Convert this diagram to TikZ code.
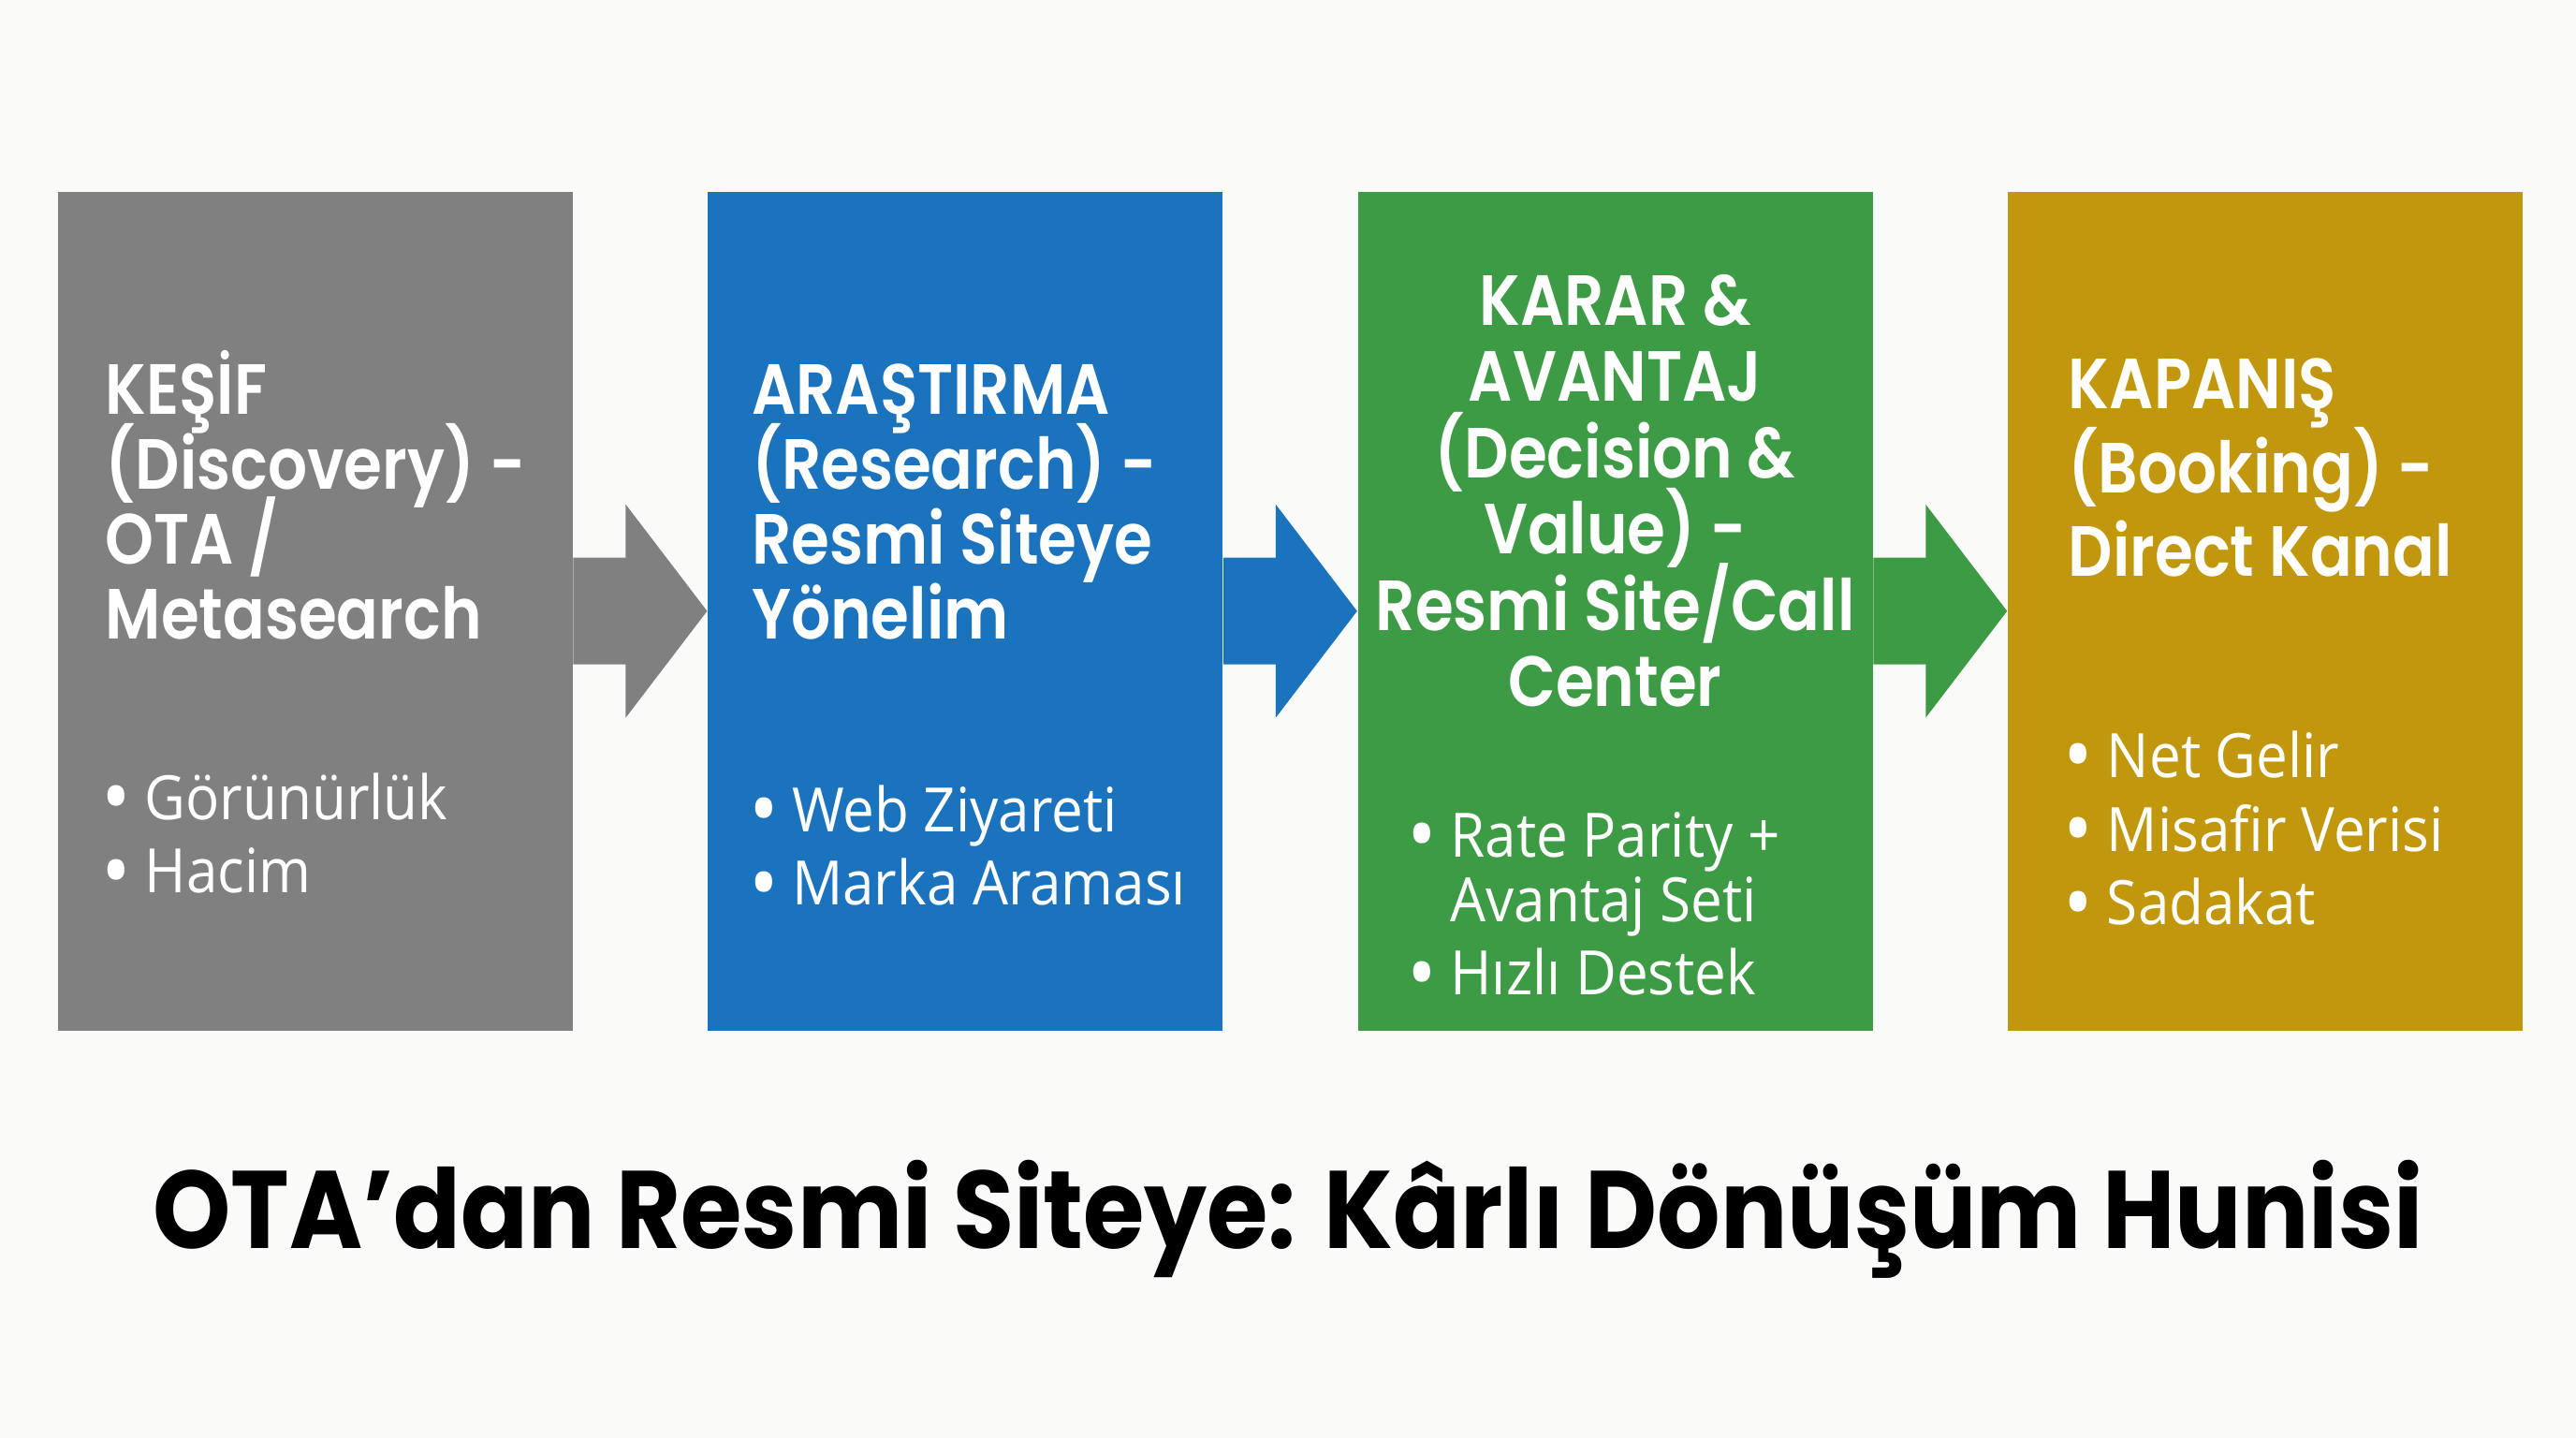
\documentclass[tikz,border=0pt]{standalone}
\usepackage{fontspec}
\setmainfont{Open Sans}[FakeStretch=0.92]
\newfontfamily\headfont{Poppins}[BoldFont={* SemiBold}, FakeStretch=0.87]
\newfontfamily\titlefont{Poppins}[FakeStretch=0.9]
\usetikzlibrary{positioning, calc}

\definecolor{bgwhite}{HTML}{FAFAF9}
\definecolor{stepgray}{HTML}{808080}
\definecolor{stepblue}{HTML}{1B72BD}
\definecolor{stepgreen}{HTML}{3E9B45}
\definecolor{stepgold}{HTML}{C1970D}

\newcommand{\bul}{\raisebox{-0.13em}{\scalebox{1.4}{\textbullet}}\hspace{0.22em}}
\newcommand{\bulskip}{\hphantom{\scalebox{1.4}{\textbullet}\hspace{0.22em}}}
\newcommand{\fixedlines}{\lineskiplimit=-20pt\lineskip=0pt}

\begin{document}
\begin{tikzpicture}[
    % Styles
    stage/.style={ % funnel stage box
        rectangle,
        minimum width=5.5cm,
        minimum height=8.96cm,
        inner sep=0pt
    },
    head/.style={ % stage heading, placed by its last baseline
        inner sep=0pt,
        text=white,
        anchor=base west,
        align=left,
        font=\headfont\bfseries\fontsize{21.6}{22.8}\selectfont\fixedlines
    },
    bullets/.style={ % stage metrics, placed by its last baseline
        inner sep=0pt,
        text=white,
        anchor=base west,
        align=left,
        font=\fontsize{18.6}{19.6}\selectfont\fixedlines
    },
    title/.style={
        inner sep=0pt,
        text=black,
        anchor=base,
        font=\titlefont\bfseries\fontsize{33.5}{40}\selectfont
    }
]
    \useasboundingbox[fill=bgwhite] (0,0) rectangle (27.52,15.36);

    % Stage boxes
    \node[stage, fill=stepgray, anchor=north west] (kesif) at (0.61,13.32) {};
    \node[stage, fill=stepblue, right=1.43cm of kesif] (arastirma) {};
    \node[stage, fill=stepgreen, right=1.43cm of arastirma] (karar) {};
    \node[stage, fill=stepgold, right=1.43cm of karar] (kapanis) {};

    % Arrows between stages
    \foreach \A/\B/\C in {kesif/arastirma/stepgray, arastirma/karar/stepblue, karar/kapanis/stepgreen} {
        \fill[\C] ($(\A.east)+(0,0.57)$) -- ++(0.56,0) -- ++(0,0.57) -- (\B.west)
            -- ($(\A.east)+(0.56,-1.14)$) -- ++(0,0.57) -- ($(\A.east)+(0,-0.57)$) -- cycle;
    }

    % Headings
    \node[head] (kesifhead) at ($(kesif.north west)+(0.51,-4.79)$)
        {KEŞİF\\(Discovery) -\\OTA /\\Metasearch};
    \node[head] (arastirmahead) at ($(arastirma.north west)+(0.47,-4.79)$)
        {ARAŞTIRMA\\(Research) -\\Resmi Siteye\\Yönelim};
    \node[head, anchor=base, align=center, font=\headfont\bfseries\fontsize{21.6}{23.2}\selectfont\fixedlines] (kararhead) at ($(karar.north)+(0,-5.51)$)
        {KARAR \&\\AVANTAJ\\(Decision \&\\Value) -\\Resmi Site/Call\\Center};
    \node[head, font=\headfont\bfseries\fontsize{21.6}{25.6}\selectfont\fixedlines] (kapanishead) at ($(kapanis.north west)+(0.65,-4.12)$)
        {KAPANIŞ\\(Booking) -\\Direct Kanal};

    % Metrics
    \node[bullets] (kesiflist) at ($(kesif.north west)+(0.47,-7.50)$)
        {\bul Görünürlük\\[0.1cm]\bul Hacim};
    \node[bullets] (arastirmalist) at ($(arastirma.north west)+(0.44,-7.63)$)
        {\bul Web Ziyareti\\[0.1cm]\bul Marka Araması};
    \node[bullets] (kararlist) at ($(karar.north west)+(0.53,-8.59)$)
        {\bul Rate Parity +\\\bulskip Avantaj Seti\\[0.1cm]\bul Hızlı Destek};
    \node[bullets] (kapanislist) at ($(kapanis.north west)+(0.60,-7.84)$)
        {\bul Net Gelir\\[0.1cm]\bul Misafir Verisi\\[0.1cm]\bul Sadakat};

    % Title
    \node[title] (title) at (13.76,2.02) {OTA’dan Resmi Siteye: Kârlı Dönüşüm Hunisi};
\end{tikzpicture}
\end{document}
